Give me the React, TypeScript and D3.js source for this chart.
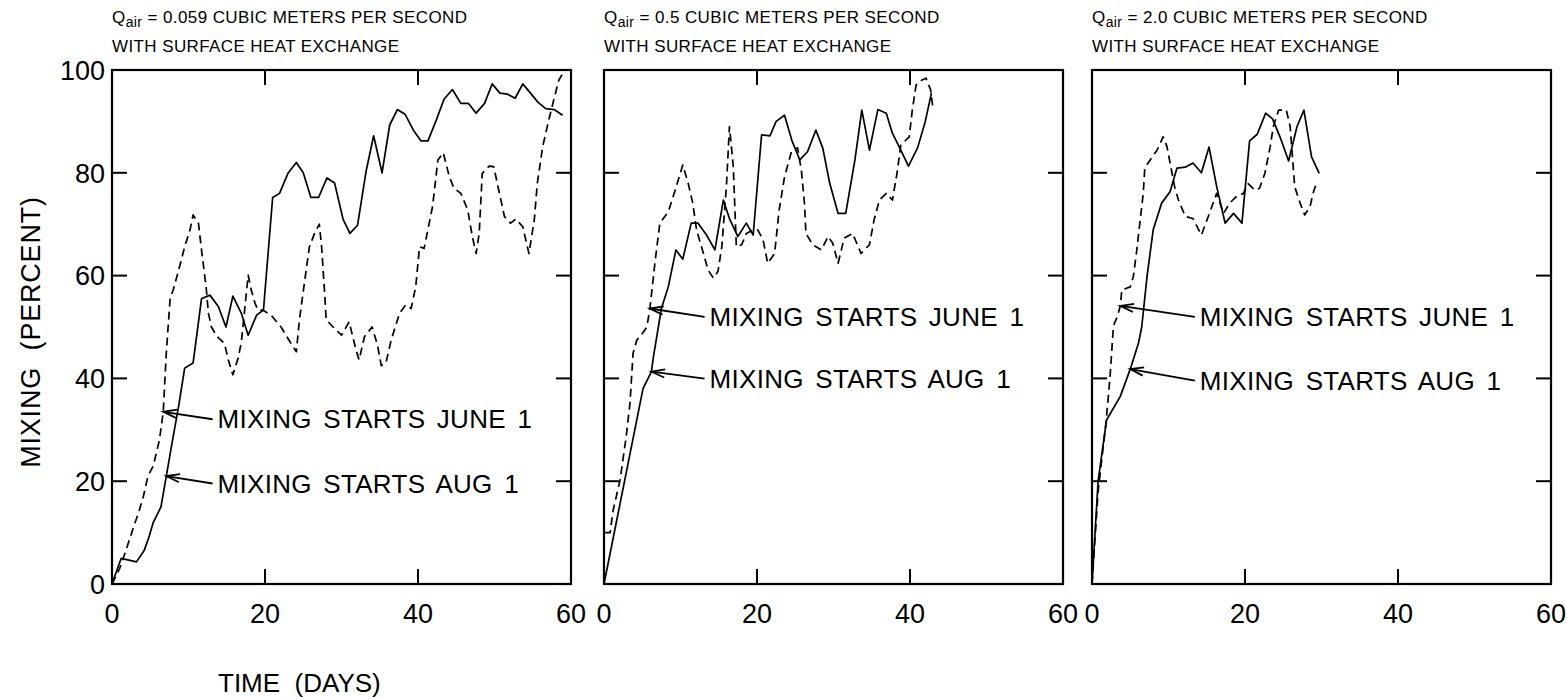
import React from "react";
import * as d3 from "d3";

type Pt = [number, number];

const panelFlows = ["0.059", "0.5", "2.0"];
const xTicks = [0, 20, 40, 60];
const yTicks = [0, 20, 40, 60, 80, 100];
const innerTicks = [20, 40, 60, 80];
const innerXTicks = [20, 40];
const labelJune = "MIXING STARTS JUNE 1";
const labelAug = "MIXING STARTS AUG 1";

// Panel 1: Q = 0.059
const p1Solid: Pt[] = [[0,0],[1.2,5],[3.2,4.3],[4.2,6.5],[4.8,9],[5.4,12],[6.4,15],[7.1,21],[7.8,27],[8.7,34.5],[9.5,42],[10.6,43],[11,47.5],[11.7,55.5],[12.8,56.2],[13.9,54],[14.9,50],[15.8,56],[16.9,52.7],[17.8,48.4],[18.9,52.3],[19.8,53.3],[21,75.2],[21.9,76],[23,79.9],[24.1,82],[25,80],[26,75.2],[27,75.2],[28.1,79],[29.1,78],[30.2,71],[31.1,68.2],[32.1,69.8],[33.2,80.2],[34.2,87.2],[35.3,80],[36.3,89.3],[37.3,92.3],[38.3,91.4],[39.4,88.3],[40.4,86.2],[41.3,86.2],[42.4,90.3],[43.4,94.3],[44.5,96.2],[45.6,93.5],[46.6,93.5],[47.6,91.6],[48.7,93.5],[49.7,97.3],[50.7,95.5],[51.7,95.3],[52.7,94.5],[53.7,97.3],[54.7,95.5],[55.7,93.7],[56.7,92.5],[57.8,92.3],[58.9,91.2]];
const p1Dashed: Pt[] = [[0,0],[1,3],[1.7,6],[2.8,11],[3.5,14],[4.1,17],[4.7,21],[5.4,23],[6.2,28],[6.7,33.5],[7.1,45],[7.6,55.6],[8,57.2],[8.7,61],[9.5,65.6],[10.2,68.9],[10.6,71.8],[11.3,70.2],[11.7,65],[12.3,57.8],[12.6,52.7],[13,50],[13.7,48.2],[14.7,46.8],[15.2,43.6],[15.8,40.7],[16.5,44],[16.9,47],[17.3,52.7],[17.8,60.1],[18.2,57.2],[18.7,54.6],[19.1,53.3],[19.7,53.3],[20.8,52.3],[22.1,50],[23.4,46.8],[24.1,45.2],[24.5,51.4],[25.2,59.1],[25.8,65.6],[26.5,68.3],[27.1,70],[27.4,65.6],[27.8,56.5],[28,51.4],[28.9,50],[30,48.4],[31,51],[31.9,45.5],[32.3,43.6],[33,48.1],[34,50],[34.7,46.5],[35.2,42.5],[35.8,43],[36.5,47.5],[37.6,52.7],[38.4,54.3],[39.1,53.6],[39.7,57.8],[40.2,65.6],[40.8,65.3],[41.9,73.4],[42.6,82.5],[43.3,83.9],[44.1,79.2],[44.7,77],[45.6,76],[46.5,72.8],[47.1,67.6],[47.6,64.3],[48,68.2],[48.4,79.9],[49.3,81.3],[49.9,81.2],[50.5,77],[51.3,71.5],[52.1,70.2],[52.8,71],[53.7,69.5],[54.5,64.3],[55.2,70.8],[55.6,78],[56.3,85.1],[57.1,90.3],[57.8,94.5],[58.4,98],[58.9,99.3]];

// Panel 2: Q = 0.5
const p2Solid: Pt[] = [[0,0],[5.1,38],[6.2,41.3],[6.4,43.6],[7.5,53.6],[8.4,57.8],[9.4,65],[10.3,63.2],[11.4,70.2],[12.3,70.2],[13.4,67.9],[14.5,65],[15.6,74.7],[16.4,71.1],[17.5,67.6],[18.6,70.2],[19.5,67.9],[20.6,87.4],[21.7,87.2],[22.5,90],[23.6,91.2],[24.6,86.1],[25.6,82.5],[26.6,84.1],[27.7,88.3],[28.6,84.8],[29.5,78],[30.6,72.1],[31.6,72.1],[32.8,82.5],[33.7,92.2],[34.7,84.4],[35.8,92.3],[36.9,91.6],[37.7,87.7],[38.8,84.4],[39.8,81.3],[41,84.9],[42,90],[42.8,95.5]];
const p2Dashed: Pt[] = [[0,0],[0,10],[0.8,10],[1.2,14.4],[2.1,20.2],[2.9,28.7],[3.4,35.2],[3.8,44.9],[4.3,47.5],[4.7,48.1],[5.6,50],[6,53.6],[6.7,63],[7.3,70.2],[8.4,72.4],[9.3,76.6],[10.3,81.5],[11,78],[11.6,74.1],[12.1,68.9],[13,64.3],[13.6,61.1],[14.3,59.5],[14.9,60.8],[15.4,65.6],[16,77.3],[16.4,89],[16.9,81.2],[17.3,65.6],[18,66],[18.6,68.2],[19.5,68.9],[20.1,68.9],[20.8,66.9],[21.4,62.4],[22.3,64.3],[22.9,72.8],[23.6,79.2],[24.5,84.1],[25.3,84.9],[25.8,80.5],[26.2,74.1],[26.4,68.2],[27.3,66],[28.4,65],[29.3,67.6],[29.9,66.3],[30.6,62.4],[31.4,67.3],[32.5,68.2],[33.6,64.3],[34.7,66],[35.3,70.8],[36,74.7],[36.9,76],[37.7,74.7],[38.3,79.9],[38.8,85.4],[39.9,87],[40.3,92.2],[40.8,97.1],[41.5,98],[42.1,98.4],[42.7,96.1],[43,92.5]];

// Panel 3: Q = 2.0
const p3Solid: Pt[] = [[0,0],[0.8,20],[1.9,31.9],[3.7,36.5],[5,41.8],[6.1,47],[6.5,50],[7.2,59.9],[8,68.9],[9.1,74.1],[10.2,76.3],[11.1,80.9],[12.2,81.1],[13.2,81.9],[14.3,80],[15.3,85],[16.3,77.3],[17.4,70.2],[18.5,72.1],[19.6,70.2],[20.6,86.2],[21.6,87.5],[22.7,91.6],[23.6,90.5],[24.6,86.9],[25.7,82.3],[26.8,89],[27.7,92.2],[28.7,83.1],[29.7,79.9]];
const p3Dashed: Pt[] = [[0,0],[0.8,18],[1.8,31],[2.1,35.8],[2.4,41.2],[2.6,45.7],[2.8,50.2],[3.3,52],[3.7,54.1],[3.9,57.2],[5,57.8],[5.4,59.8],[5.8,64.3],[6.3,70.8],[6.7,76],[6.9,80.9],[7.6,82.5],[8.5,84.4],[9.3,87],[9.8,85.1],[10.3,81.2],[10.8,77.3],[11.3,74.7],[12.2,71.5],[13.2,71.1],[14.3,67.9],[15.2,71.5],[16.3,76],[17.2,72.1],[18,74.1],[18.9,75.4],[19.8,76],[20.4,77.9],[21.3,76.6],[21.9,77],[22.6,79.9],[23.3,85.1],[23.7,89],[24.4,92.2],[25.4,92.2],[25.9,89],[26.3,81.2],[26.5,77.3],[27.2,74.1],[27.8,71.8],[28.5,73.4],[28.9,76],[29.4,78.3]];

// annotation targets [day, value] and text anchors [day, value]
const juneTargets: Pt[] = [[6.7, 33.5], [6, 53.6], [3.7, 54.1]];
const augTargets: Pt[] = [[7.1, 21], [6.2, 41.3], [5, 41.8]];
const juneText: Pt[] = [[13.8, 30.3], [13.8, 50.2], [14.1, 50.2]];
const augText: Pt[] = [[13.8, 17.8], [13.8, 38.2], [14.1, 37.8]];

const solids = [p1Solid, p2Solid, p3Solid];
const dashes = [p1Dashed, p2Dashed, p3Dashed];

const W = 1566, H = 699;
const panelLefts = [112, 604, 1092];
const panelW = 459;
const top = 70, bottom = 584;
const FONT = "'Liberation Sans', Arial, Helvetica, sans-serif";

function Arrow({ from, to }: { from: Pt; to: Pt }) {
  const ang = Math.atan2(from[1] - to[1], from[0] - to[0]);
  const L = 14, a = 0.3;
  const p1: Pt = [to[0] + L * Math.cos(ang + a), to[1] + L * Math.sin(ang + a)];
  const p2: Pt = [to[0] + L * Math.cos(ang - a), to[1] + L * Math.sin(ang - a)];
  return (
    <g stroke="#000" strokeWidth={1.8} fill="none">
      <line x1={from[0]} y1={from[1]} x2={to[0]} y2={to[1]} />
      <polyline points={`${p1[0]},${p1[1]} ${to[0]},${to[1]} ${p2[0]},${p2[1]}`} />
    </g>
  );
}

function Panel({ i }: { i: number }) {
  const x = d3.scaleLinear().domain([0, 60]).range([panelLefts[i], panelLefts[i] + panelW]);
  const y = d3.scaleLinear().domain([0, 100]).range([bottom, top]);
  const line = d3.line<Pt>().x((d) => x(d[0])).y((d) => y(d[1]));
  const tl = 15;
  const jT = juneTargets[i], aT = augTargets[i];
  const jX = juneText[i], aX = augText[i];
  return (
    <g>
      <text x={x(0)} y={23} fontSize={17} fontFamily={FONT} fill="#000" letterSpacing={0.4}>
        Q<tspan fontSize={14} dy={4}>air</tspan><tspan dy={-4} style={{ whiteSpace: "pre" }}>{` = ${panelFlows[i]} CUBIC METERS PER SECOND`}</tspan>
      </text>
      <text x={x(0)} y={52} fontSize={17} fontFamily={FONT} fill="#000" letterSpacing={0.4}>WITH SURFACE HEAT EXCHANGE</text>
      <rect x={x(0)} y={y(100)} width={x(60) - x(0)} height={y(0) - y(100)} fill="none" stroke="#000" strokeWidth={2.2} />
      {innerTicks.map((t) => (
        <g key={"y" + t} stroke="#000" strokeWidth={2}>
          <line x1={x(0)} x2={x(0) + tl} y1={y(t)} y2={y(t)} />
          <line x1={x(60)} x2={x(60) - tl} y1={y(t)} y2={y(t)} />
        </g>
      ))}
      {innerXTicks.map((t) => (
        <g key={"x" + t} stroke="#000" strokeWidth={2}>
          <line x1={x(t)} x2={x(t)} y1={y(0)} y2={y(0) - tl} />
          <line x1={x(t)} x2={x(t)} y1={y(100)} y2={y(100) + tl} />
        </g>
      ))}
      {xTicks.map((t) => (
        <text key={"xl" + t} x={x(t)} y={623} textAnchor="middle" fontSize={27} fontFamily={FONT} fill="#000">{t}</text>
      ))}
      {i === 0 && yTicks.map((t) => (
        <text key={"yl" + t} x={x(0) - 7} y={y(t)} dy="0.36em" textAnchor="end" fontSize={27} fontFamily={FONT} fill="#000">{t}</text>
      ))}
      <path d={line(solids[i]) || ""} fill="none" stroke="#000" strokeWidth={1.7} strokeLinejoin="round" />
      <path d={line(dashes[i]) || ""} fill="none" stroke="#000" strokeWidth={1.7} strokeDasharray="8 5" strokeLinejoin="round" />
      <Arrow from={[x(jX[0]) - 5, y(jX[1]) - 9]} to={[x(jT[0]), y(jT[1])]} />
      <Arrow from={[x(aX[0]) - 5, y(aX[1]) - 9]} to={[x(aT[0]), y(aT[1])]} />
      <text x={x(jX[0])} y={y(jX[1])} fontSize={26} fontFamily={FONT} fill="#000" wordSpacing={4} letterSpacing={0.3}>{labelJune}</text>
      <text x={x(aX[0])} y={y(aX[1])} fontSize={26} fontFamily={FONT} fill="#000" wordSpacing={4} letterSpacing={0.3}>{labelAug}</text>
    </g>
  );
}

export default function App() {
  return (
    <svg width={W} height={H} style={{ position: "absolute", left: 0, top: 0, background: "#fff" }}>
      <rect width={W} height={H} fill="#fff" />
      {[0, 1, 2].map((i) => <Panel key={i} i={i} />)}
      <text transform="translate(40,332) rotate(-90)" textAnchor="middle" fontSize={27} fontFamily={FONT} fill="#000" letterSpacing={0.8} style={{ whiteSpace: "pre" }}>{"MIXING  (PERCENT)"}</text>
      <text x={218} y={692} fontSize={26} fontFamily={FONT} fill="#000" style={{ whiteSpace: "pre" }}>{"TIME  (DAYS)"}</text>
    </svg>
  );
}
